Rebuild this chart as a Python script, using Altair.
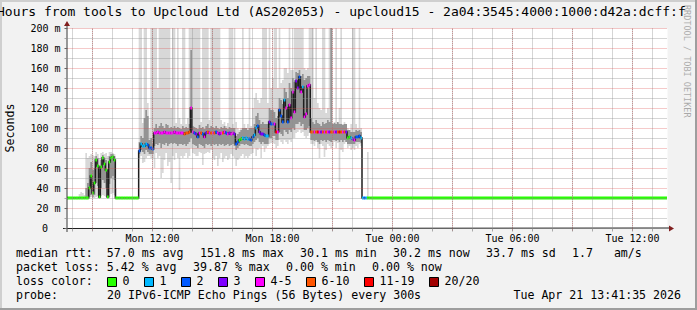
import altair as alt
import pandas as pd

# ---------------- data: 5-minute steps, one row per hour (Mon 08:00 .. Mon 22:55) ----------------
MED = [
    [30, 30, 30, 30, 30, 30, 30, 30, 30, 30, 40, 52],
    [35, 45, 68, 62, 31, 61, 70, 64, 58, 31, 66, 70],
    [71, 68, 30, 30, 30, 30, 30, 30, 30, 30, 30, 30],
    [30, 30, 30, 30, 77, 84, 82, 82, 84, 83, 80, 80],
    [79, 95, 95, 96, 95, 95, 95, 96, 95, 95, 95, 95],
    [95, 96, 95, 95, 95, 95, 95, 94, 95, 95, 96, 120],
    [96, 95, 94, 91, 95, 95, 94, 91, 95, 96, 95, 95],
    [95, 95, 96, 95, 94, 95, 95, 96, 95, 94, 95, 94],
    [95, 94, 84, 86, 88, 89, 90, 89, 90, 89, 89, 88],
    [91, 93, 100, 102, 96, 94, 94, 93, 92, 92, 106, 104],
    [104, 104, 96, 96, 118, 112, 106, 128, 120, 106, 123, 110],
    [136, 116, 147, 140, 151, 136, 141, 111, 114, 142, 143, 96],
    [96, 96, 96, 96, 96, 96, 96, 96, 96, 96, 96, 96],
    [96, 96, 96, 96, 96, 96, 96, 96, 96, 90, 91, 90],
    [89, 88, 91, 91, 92, 90, 30, 30, 30, 30, 30, 30],
]
# loss class index into LOSS_LABELS
LOSS = [
    [0, 0, 0, 0, 0, 0, 0, 0, 0, 0, 0, 0],
    [0, 0, 0, 0, 0, 0, 0, 0, 0, 0, 0, 0],
    [0, 0, 0, 0, 0, 0, 0, 0, 0, 0, 0, 0],
    [0, 0, 0, 0, 2, 1, 1, 1, 1, 2, 2, 2],
    [2, 4, 4, 4, 4, 4, 4, 4, 4, 4, 4, 4],
    [4, 4, 4, 4, 4, 4, 4, 5, 5, 5, 5, 4],
    [4, 2, 3, 2, 4, 5, 2, 4, 3, 5, 4, 5],
    [4, 5, 2, 4, 3, 4, 5, 4, 2, 4, 3, 4],
    [4, 3, 2, 2, 0, 0, 1, 1, 1, 1, 2, 2],
    [2, 1, 1, 2, 3, 3, 3, 2, 1, 1, 3, 2],
    [2, 4, 6, 4, 2, 2, 2, 1, 4, 2, 4, 4],
    [4, 4, 3, 3, 2, 4, 1, 4, 4, 4, 4, 5],
    [5, 4, 5, 6, 4, 3, 5, 4, 5, 4, 3, 5],
    [5, 4, 3, 5, 6, 5, 4, 5, 3, 0, 0, 1],
    [3, 4, 2, 2, 2, 1, 1, 2, 1, 0, 0, 0],
]
SMOKE_LO = [
    [30, 30, 30, 30, 30, 30, 30, 30, 30, 30, 30, 31],
    [30, 30, 31, 32, 30, 32, 33, 32, 31, 30, 31, 34],
    [35, 33, 30, 30, 30, 30, 30, 30, 30, 30, 30, 30],
    [30, 30, 30, 30, 70, 72, 65, 66, 70, 72, 72, 70],
    [70, 60, 75, 70, 72, 50, 55, 68, 75, 62, 66, 45],
    [72, 68, 75, 70, 38, 72, 70, 72, 75, 70, 72, 80],
    [75, 74, 72, 72, 76, 75, 63, 74, 75, 76, 75, 78],
    [70, 68, 72, 62, 70, 75, 66, 70, 72, 68, 70, 74],
    [72, 70, 62, 68, 70, 72, 74, 70, 72, 70, 72, 74],
    [75, 80, 72, 78, 80, 70, 82, 76, 80, 82, 84, 85],
    [85, 84, 80, 82, 88, 86, 84, 88, 86, 84, 88, 86],
    [90, 90, 95, 96, 98, 95, 96, 92, 90, 92, 95, 84],
    [84, 82, 86, 80, 70, 84, 82, 71, 78, 84, 82, 80],
    [82, 86, 80, 85, 46, 78, 76, 84, 86, 80, 82, 78],
    [80, 78, 82, 80, 84, 82, 30, 30, 30, 30, 30, 30],
]
SMOKE_HI = [
    [30, 30, 30, 30, 34, 36, 35, 33, 75, 70, 72, 74],
    [73, 72, 76, 74, 70, 75, 76, 74, 75, 72, 76, 76],
    [75, 74, 40, 30, 30, 30, 30, 30, 30, 30, 30, 30],
    [30, 30, 30, 30, 210, 210, 105, 210, 210, 125, 100, 210],
    [210, 210, 210, 140, 210, 210, 210, 210, 210, 210, 210, 120],
    [210, 210, 105, 210, 110, 104, 210, 210, 104, 110, 210, 210],
    [210, 210, 210, 210, 210, 106, 210, 210, 210, 210, 108, 210],
    [210, 210, 210, 210, 210, 108, 104, 106, 102, 105, 210, 210],
    [104, 210, 106, 100, 98, 100, 210, 104, 100, 104, 210, 102],
    [120, 130, 135, 128, 125, 130, 210, 210, 210, 125, 210, 140],
    [150, 210, 210, 140, 210, 145, 148, 160, 160, 155, 210, 158],
    [158, 210, 210, 210, 210, 210, 210, 160, 158, 160, 210, 210],
    [210, 130, 210, 125, 120, 118, 210, 210, 115, 120, 210, 210],
    [104, 106, 210, 105, 120, 210, 104, 106, 102, 100, 98, 104],
    [210, 210, 104, 100, 210, 100, 30, 30, 30, 76, 30, 30],
]
CORE_LO = [
    [30, 30, 30, 30, 30, 30, 30, 30, 30, 30, 31, 33],
    [31, 33, 45, 42, 30, 40, 48, 45, 40, 30, 44, 50],
    [52, 48, 30, 30, 30, 30, 30, 30, 30, 30, 30, 30],
    [30, 30, 30, 30, 74, 78, 76, 74, 78, 76, 74, 74],
    [74, 82, 84, 83, 85, 80, 84, 83, 85, 82, 84, 85],
    [84, 85, 84, 82, 84, 84, 83, 84, 82, 84, 86, 90],
    [84, 83, 82, 80, 84, 83, 82, 80, 84, 83, 84, 82],
    [84, 83, 84, 82, 84, 83, 84, 82, 83, 84, 82, 83],
    [84, 82, 78, 80, 82, 84, 84, 83, 84, 83, 82, 82],
    [84, 86, 88, 90, 86, 84, 86, 84, 84, 84, 90, 90],
    [92, 92, 88, 88, 96, 94, 92, 98, 96, 94, 98, 96],
    [100, 98, 104, 104, 106, 102, 104, 98, 98, 100, 102, 88],
    [88, 87, 88, 86, 84, 88, 87, 88, 86, 88, 87, 86],
    [88, 88, 87, 88, 86, 88, 86, 88, 86, 84, 84, 84],
    [84, 84, 86, 86, 86, 85, 30, 30, 30, 30, 30, 30],
]
CORE_HI = [
    [30, 30, 30, 30, 30, 30, 30, 30, 40, 45, 60, 66],
    [58, 60, 72, 70, 55, 68, 73, 70, 68, 55, 72, 74],
    [74, 72, 30, 30, 30, 30, 30, 30, 30, 30, 30, 30],
    [30, 30, 30, 30, 86, 92, 90, 110, 118, 112, 88, 90],
    [84, 100, 104, 100, 102, 105, 102, 100, 104, 103, 100, 101],
    [100, 102, 100, 101, 100, 99, 102, 100, 101, 100, 104, 178],
    [102, 101, 100, 99, 103, 100, 101, 99, 102, 104, 100, 102],
    [101, 100, 102, 100, 99, 101, 100, 102, 100, 99, 101, 100],
    [100, 100, 92, 94, 96, 98, 100, 100, 100, 98, 100, 100],
    [100, 104, 112, 115, 108, 104, 106, 104, 104, 104, 120, 118],
    [118, 116, 110, 112, 130, 128, 124, 140, 136, 130, 145, 140],
    [150, 146, 156, 155, 158, 152, 154, 148, 150, 152, 152, 110],
    [106, 104, 108, 105, 104, 102, 106, 104, 105, 108, 106, 210],
    [104, 105, 104, 106, 104, 104, 103, 104, 104, 98, 98, 96],
    [96, 96, 98, 97, 98, 96, 30, 30, 30, 30, 30, 30],
]

LOSS_LABELS = ["0", "1", "2", "3", "4-5", "6-10", "11-19", "20/20"]
LOSS_COLORS = ["#26ff00", "#00b8ff", "#0059ff", "#7e00ff", "#ff00ff", "#ff5500", "#ff0000", "#a10000"]

SERIES_DAY = "2026-04-20"
SERIES_FIRST_HOUR = 8
STEP_MINUTES = 5
BASELINE = 30
EDGE_TIMES = ["2026-04-20 07:40", "2026-04-20 23:00", "2026-04-21 13:50"]
VIEW_START = "2026-04-20 07:45"
VIEW_END = "2026-04-21 13:45"
Y_MAX = 200

TITLE = "30 Hours from tools to Upcloud Ltd (AS202053) - upcloud15 - 2a04:3545:4000:1000:d42a:dcff:f"
RTT_ITEMS = ["median rtt:  57.0 ms avg", "151.8 ms max", "30.1 ms min", "30.2 ms now", "33.7 ms sd", "1.7   am/s"]
LOSS_ITEMS = ["packet loss: 5.42 % avg", "39.87 % max", "0.00 % min", "0.00 % now"]
LOSS_CAPTION = "loss color:"
PROBE_ITEMS = ["probe:", "20 IPv6-ICMP Echo Pings (56 Bytes) every 300s"]
STAMP = "Tue Apr 21 13:41:35 2026"
Y_TITLE = "Seconds"
WATERMARK = "RRDTOOL / TOBI OETIKER"

# ---------------- layout ----------------
W, H = 697, 310
PL, PT = 67, 28
PW, PH = 600, 200
FONT = "DejaVu Sans Mono"
CW = 7.0
GAP = 16
GRID_MINOR = "rgba(143,143,143,0.75)"
GRID_MAJOR = "rgba(222,79,79,0.6)"


def flat(rows):
    return [v for r in rows for v in r]


def nb(s):
    return s.replace(" ", "\u00a0")


def dt(t):
    t = pd.Timestamp(t)
    return alt.DateTime(year=t.year, month=t.month, date=t.day, hours=t.hour, minutes=t.minute)


n = len(flat(MED))
times = [pd.Timestamp(SERIES_DAY) + pd.Timedelta(hours=SERIES_FIRST_HOUR) + pd.Timedelta(minutes=STEP_MINUTES * k)
         for k in range(n)]
body = pd.DataFrame({"t": times, "med": flat(MED), "cls": flat(LOSS), "slo": flat(SMOKE_LO),
                     "shi": flat(SMOKE_HI), "clo": flat(CORE_LO), "chi": flat(CORE_HI)})
edges = pd.DataFrame({"t": [pd.Timestamp(t) for t in EDGE_TIMES]})
for c in ["med", "slo", "shi", "clo", "chi"]:
    edges[c] = BASELINE
edges["cls"] = 0
df = pd.concat([body, edges]).sort_values("t").reset_index(drop=True)
df["loss"] = [LOSS_LABELS[c] for c in df["cls"]]
df["t_next"] = df["t"].shift(-1)
df.loc[df.index[-1], "t_next"] = df["t"].iloc[-1]

xs = alt.Scale(domain=[dt(VIEW_START), dt(VIEW_END)])
ys = alt.Scale(domain=[0, Y_MAX])

# hourly tick positions across the view
hour_ticks = pd.date_range(pd.Timestamp(VIEW_START).ceil("h"), pd.Timestamp(VIEW_END).floor("h"), freq="h")
x_axis = alt.Axis(
    title=None, domain=False, values=[dt(t) for t in hour_ticks],
    labelExpr="hours(datum.value) % 6 === 0 ? timeFormat(datum.value, '%a %H:%M') : ''",
    labelFont=FONT, labelFontSize=10, labelColor="black", labelBaseline="middle", labelPadding=7,
    labelOverlap=False, labelFlush=False, labelBound=False,
    tickSize=3, tickColor=GRID_MINOR,
    grid=True, gridDash=[1, 1], gridWidth=1, gridColor=GRID_MINOR,
    zindex=1,
)
y_axis = alt.Axis(
    title=None, domain=False, values=list(range(0, Y_MAX + 1, 10)),
    labelExpr="datum.value > 0 && datum.value % 20 === 0 ? datum.value + ' m' : ''",
    labelFont=FONT, labelFontSize=10, labelColor="black", labelAlign="right", labelBaseline="middle",
    labelPadding=4, labelOverlap=False, labelBound=False,
    tickSize=3, tickColor={"condition": {"test": "datum.value % 20 === 0", "value": "#666666"}, "value": GRID_MINOR},
    grid=True, gridDash=[1, 1], gridWidth=1,
    gridColor={"condition": [{"test": "datum.value === 0", "value": "transparent"},
                             {"test": "datum.value % 20 === 0", "value": GRID_MAJOR}], "value": GRID_MINOR},
    zindex=1,
)


def X():
    return alt.X("t:T", scale=xs, axis=x_axis, title=None)


def Y(f):
    return alt.Y(f"{f}:Q", scale=ys, axis=y_axis, title=None)


base = alt.Chart(df)
smoke = base.mark_area(interpolate="step-after", color="#d8d8d8", clip=True).encode(
    x=X(), y=Y("shi"), y2="slo:Q")
core = base.mark_area(interpolate="step-after", color="#939393", clip=True).encode(
    x=X(), y=Y("chi"), y2="clo:Q")
median = base.mark_line(interpolate="step-after", color="#1e1e1e", strokeWidth=1.5, clip=True).encode(
    x=X(), y=Y("med"))
segs = base.mark_rule(strokeWidth=3, clip=True).encode(
    x=X(), x2="t_next:T", y=Y("med"),
    color=alt.Color("loss:N", scale=alt.Scale(domain=LOSS_LABELS, range=LOSS_COLORS), legend=None))

# major (3-hour) vertical grid, drawn bottom-up over the minor hourly grid (same dash phase)
major_df = pd.DataFrame({"t": [t for t in hour_ticks if t.hour % 3 == 0]})
major = alt.Chart(major_df).mark_rule(color=GRID_MAJOR, strokeDash=[1, 1], strokeWidth=1, xOffset=0.5).encode(
    x=X(), y=alt.value(PH), y2=alt.value(0))
major_ticks = alt.Chart(major_df).mark_rule(color=GRID_MAJOR, strokeWidth=1, xOffset=0.5).encode(
    x=X(), y=alt.value(PH), y2=alt.value(PH + 3))

DUMMY = pd.DataFrame({"k": [0]})
deco = []


def vx(a):
    return alt.value(a - PL)


def vy(a):
    return alt.value(a - PT)


def rect(x1, x2, y1, y2, fill, **kw):
    deco.append(alt.Chart(DUMMY).mark_rect(fill=fill, **kw).encode(x=vx(x1), x2=vx(x2), y=vy(y1), y2=vy(y2)))


def line(x1, x2, y1, y2, color, **kw):
    deco.append(alt.Chart(DUMMY).mark_rule(color=color, strokeWidth=1, **kw).encode(
        x=vx(x1), x2=vx(x2), y=vy(y1), y2=vy(y2)))


def text(x, y, s, size=11.6, align="left", baseline="middle", **kw):
    deco.append(alt.Chart(DUMMY).mark_text(text=nb(s), font=FONT, fontSize=size, align=align,
                                           baseline=baseline, **kw).encode(x=vx(x), y=vy(y)))


# border shades
rect(0, W, 0, 2, "#cfcfcf")
rect(0, 2, 0, H, "#cfcfcf")
rect(0, W, H - 2, H, "#9e9e9e")
rect(W - 2, W, 0, H, "#9e9e9e")

# axis lines + arrows
line(PL - 4, PL + PW + 4, PT + PH, PT + PH, "#1f1f1f", yOffset=0.5)
line(PL, PL, PT + PH + 4, PT - 4, "#3a3a3a")
deco.append(alt.Chart(DUMMY).mark_point(filled=True, size=25, color="#801f1f", opacity=1,
                                        shape="M -1 -1.2 L 1 0 L -1 1.2 Z").encode(
    x=vx(PL + PW + 4.5), y=vy(PT + PH + 0.5)))
deco.append(alt.Chart(DUMMY).mark_point(filled=True, size=25, color="#801f1f", opacity=1,
                                        shape="M -1.2 1 L 0 -1 L 1.2 1 Z").encode(
    x=vx(PL), y=vy(PT - 4.5)))
text(48, PT + PH + 0.5, "0", size=10, align="right")


def place(items, y):
    x = 16
    for it in items:
        text(x, y, it)
        x += len(it) * CW + GAP


place(RTT_ITEMS, 254)
place(LOSS_ITEMS, 268)
text(16, 282, LOSS_CAPTION)
text(16, 296, PROBE_ITEMS[0])
text(16 + 13 * CW, 296, PROBE_ITEMS[1])
bx = 16 + 13 * CW + 0.5
for lab, col in zip(LOSS_LABELS, LOSS_COLORS):
    rect(bx, bx + 9, 277.5, 286.5, col, stroke="black", strokeWidth=1)
    text(bx + 15, 282, lab)
    bx += 15 + len(lab) * CW + 15
text(681, 296, STAMP, align="right")
text(-26.5, 12, TITLE, size=13)
text(11, 128, Y_TITLE, align="center", angle=270)
text(691, 5, WATERMARK, size=8.5, baseline="top", angle=90, opacity=0.3)

chart = alt.layer(smoke, core, median, segs, major, major_ticks, *deco).properties(
    width=PW, height=PH,
    padding={"left": PL, "top": PT, "right": W - PL - PW, "bottom": H - PT - PH},
    autosize=alt.AutoSizeParams(type="none"),
    background="#f2f2f2",
).configure_view(fill="white", stroke="transparent")

chart.save("out.html", embed_options={"renderer": "svg", "actions": False})
